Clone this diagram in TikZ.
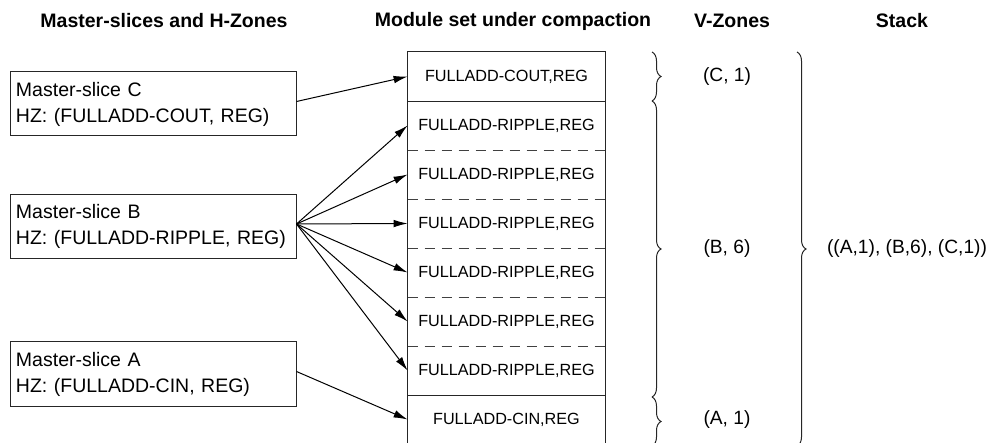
\documentclass[tikz,border=0pt]{standalone}
\usepackage{fontspec}
\setmainfont{Liberation Sans}
\usetikzlibrary{arrows.meta,decorations.pathreplacing}

\begin{document}
\begin{tikzpicture}[x=0.5pt,y=-0.5pt,
  lineclr/.style={draw=black!85,line width=0.5pt},
  header/.style={font=\fontsize{9.75}{12}\selectfont\bfseries,inner sep=0pt},
  slicebox/.style={lineclr,minimum width=143pt,minimum height=32pt,
    text width=137pt,align=left,inner xsep=3pt,
    font=\fontsize{9.75}{13}\selectfont},
  modrow/.style={minimum width=98.5pt,minimum height=24.5pt,inner sep=0pt,
    font=\fontsize{8.1}{10}\selectfont},
  zonelabel/.style={font=\fontsize{9.6}{12}\selectfont,inner sep=0pt},
  feed/.style={-{Latex[length=7pt,width=3.8pt]},line width=0.5pt},
  sep/.style={lineclr},
  dsep/.style={draw=black!75,line width=0.5pt,dash pattern=on 5pt off 3.5pt},
  zonebrace/.style={draw=black!85,line width=0.5pt,
    decorate,decoration={brace,amplitude=4.5pt}}]

\useasboundingbox (0,0) rectangle (991,443);

% column titles
\node[header] (h1) at (164,21) {Master-slices and H-Zones};
\node[header] (h2) at (513,21) {Module set under compaction};
\node[header] (h3) at (732,21) {V-Zones};
\node[header] (h4) at (902,21) {Stack};

% master slices
\node[slicebox] (ms-c) at (153,104) {Master-slice C\\HZ: (FULLADD-COUT, REG)};
\node[slicebox] (ms-b) at (153,226.5) {Master-slice B\\HZ: (FULLADD-RIPPLE, REG)};
\node[slicebox] (ms-a) at (153,374) {Master-slice A\\HZ: (FULLADD-CIN, REG)};

% module rows
\node[modrow] (r1) at (506.5,76.5) {FULLADD-COUT,REG};
\node[modrow] (r2) at (506.5,125.5) {FULLADD-RIPPLE,REG};
\node[modrow] (r3) at (506.5,174.5) {FULLADD-RIPPLE,REG};
\node[modrow] (r4) at (506.5,223.5) {FULLADD-RIPPLE,REG};
\node[modrow] (r5) at (506.5,272.5) {FULLADD-RIPPLE,REG};
\node[modrow] (r6) at (506.5,321.5) {FULLADD-RIPPLE,REG};
\node[modrow] (r7) at (506.5,370.5) {FULLADD-RIPPLE,REG};
\node[modrow] (r8) at (506.5,419.5) {FULLADD-CIN,REG};

% outline and separators of the module set
\draw[lineclr] (r1.north west) rectangle (r8.south east);
\draw[sep] (r1.south west) -- (r1.south east);
\draw[sep] (r7.south west) -- (r7.south east);
\foreach \r in {r2,r3,r4,r5,r6}
  \draw[dsep] (\r.south west) -- (\r.south east);

% assignments of slices to modules
\draw[feed] ([yshift=1.25pt]ms-c.east) -- (r1.west);
\foreach \r in {r2,r3,r4,r5,r6,r7}
  \draw[feed] ([yshift=1.25pt]ms-b.east) -- (\r.west);
\draw[feed] ([yshift=1.25pt]ms-a.east) -- (r8.west);

% vertical zones
\draw[zonebrace] (652,52) -- (652,101);
\draw[zonebrace] (652,101) -- (652,397);
\draw[zonebrace] (652,397) -- (652,446);
\node[zonelabel] (vz-c) at (727,77) {(C, 1)};
\node[zonelabel] (vz-b) at (727,249) {(B, 6)};
\node[zonelabel] (vz-a) at (727,420) {(A, 1)};

% stack
\draw[zonebrace] (797,52) -- (797,446);
\node[zonelabel] (stk) at (907,249) {((A,1), (B,6), (C,1))};
\end{tikzpicture}
\end{document}
